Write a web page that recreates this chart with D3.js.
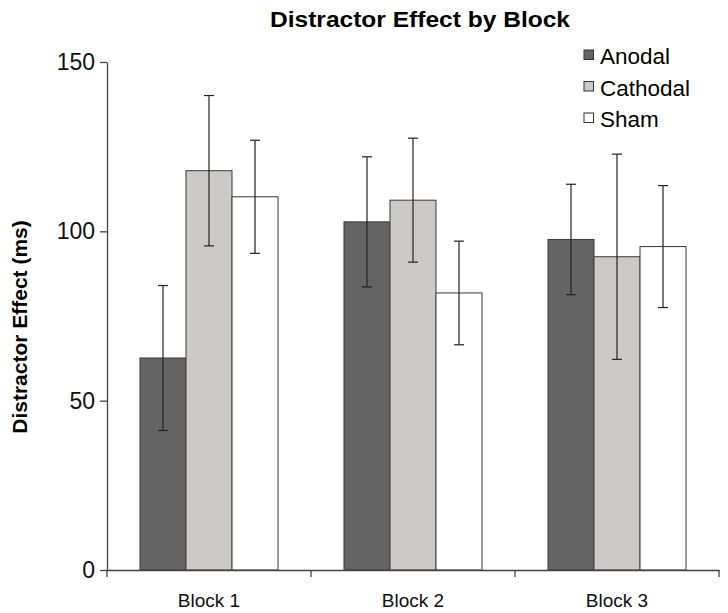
<!DOCTYPE html>
<html>
<head>
<meta charset="utf-8">
<script src="https://cdn.jsdelivr.net/npm/d3@7"></script>
<style>
  html, body { margin: 0; padding: 0; background: #fff; }
  svg { display: block; font-family: "Liberation Sans", Arial, Helvetica, sans-serif; }
</style>
</head>
<body>
<div id="chart"></div>
<script>
const blocks = ["Block 1", "Block 2", "Block 3"];
const series = ["Anodal", "Cathodal", "Sham"];
const anodal = [62.6, 102.8, 97.6];
const cathodal = [117.9, 109.2, 92.5];
const sham = [110.2, 81.8, 95.5];
const anodalErr = [21.4, 19.2, 16.3];
const cathodalErr = [22.2, 18.3, 30.3];
const shamErr = [16.7, 15.3, 18.0];
const yTicks = [0, 50, 100, 150];
const colors = ["#646464", "#cccac8", "#ffffff"];

const W = 728, H = 613;
const margin = {left: 107, right: 9, top: 62, bottom: 43};
const svg = d3.select("#chart").append("svg").attr("width", W).attr("height", H);

const values = [anodal, cathodal, sham];
const errs = [anodalErr, cathodalErr, shamErr];

const x0 = d3.scaleBand().domain(blocks).range([margin.left, W - margin.right]).padding(0);
const x1 = d3.scaleBand().domain(series).range([0, x0.bandwidth()]).paddingInner(0).paddingOuter(0.717);
const y = d3.scaleLinear().domain([0, 150]).range([H - margin.bottom, margin.top]);

// bars
blocks.forEach((b, i) => {
  series.forEach((s, j) => {
    svg.append("rect")
      .attr("x", x0(b) + x1(s))
      .attr("y", y(values[j][i]))
      .attr("width", x1.bandwidth())
      .attr("height", y(0) - y(values[j][i]))
      .attr("fill", colors[j])
      .attr("stroke", "#3a3a3a")
      .attr("stroke-width", 1);
  });
});

// error bars
blocks.forEach((b, i) => {
  series.forEach((s, j) => {
    const cx = x0(b) + x1(s) + x1.bandwidth() / 2;
    const hi = y(values[j][i] + errs[j][i]);
    const lo = y(values[j][i] - errs[j][i]);
    const g = svg.append("g").attr("stroke", "#222").attr("stroke-width", 1.2);
    g.append("line").attr("x1", cx).attr("x2", cx).attr("y1", hi).attr("y2", lo);
    g.append("line").attr("x1", cx - 5).attr("x2", cx + 5).attr("y1", hi).attr("y2", hi);
    g.append("line").attr("x1", cx - 5).attr("x2", cx + 5).attr("y1", lo).attr("y2", lo);
  });
});

// y axis
const yAxis = svg.append("g")
  .attr("transform", `translate(${margin.left},0)`)
  .call(d3.axisLeft(y).tickValues(yTicks).tickSize(7).tickPadding(5).tickSizeOuter(0));
yAxis.select(".domain").attr("stroke", "#444").attr("stroke-width", 1.3);
yAxis.selectAll(".tick line").attr("stroke", "#444").attr("stroke-width", 1.3);
yAxis.selectAll("text").attr("font-size", 23).attr("fill", "#111")
  .attr("font-family", "Liberation Sans, Arial, sans-serif");

// x axis
const xAxis = svg.append("g")
  .attr("transform", `translate(0,${y(0)})`)
  .call(d3.axisBottom(x0).tickSize(0).tickPadding(24).tickSizeOuter(0));
xAxis.select(".domain").attr("stroke", "#444").attr("stroke-width", 1.3);
xAxis.selectAll("text").attr("font-size", 19).attr("fill", "#111")
  .attr("font-family", "Liberation Sans, Arial, sans-serif");
// boundary ticks between categories
const bounds = blocks.map(b => x0(b)).concat([x0(blocks[blocks.length - 1]) + x0.bandwidth()]);
svg.append("g").selectAll("line").data(bounds).join("line")
  .attr("x1", d => d).attr("x2", d => d)
  .attr("y1", y(0)).attr("y2", y(0) + 7)
  .attr("stroke", "#444").attr("stroke-width", 1.3);

// title
svg.append("text")
  .attr("x", 420).attr("y", 27)
  .attr("text-anchor", "middle")
  .attr("font-size", 22).attr("font-weight", "bold").attr("fill", "#000")
  .attr("textLength", 300).attr("lengthAdjust", "spacingAndGlyphs")
  .text("Distractor Effect by Block");

// y title
svg.append("text")
  .attr("transform", `translate(27,${327}) rotate(-90)`)
  .attr("text-anchor", "middle")
  .attr("font-size", 21).attr("font-weight", "bold").attr("fill", "#000")
  .text("Distractor Effect (ms)");

// legend
const leg = svg.append("g");
series.forEach((s, j) => {
  const yy = 50 + j * 31.5;
  leg.append("rect").attr("x", 584).attr("y", yy).attr("width", 9.5).attr("height", 9.5)
    .attr("fill", colors[j]).attr("stroke", "#333").attr("stroke-width", 1);
  leg.append("text").attr("x", 600).attr("y", yy + 14).attr("font-size", 22.5)
    .attr("fill", "#000").text(s);
});
</script>
</body>
</html>
